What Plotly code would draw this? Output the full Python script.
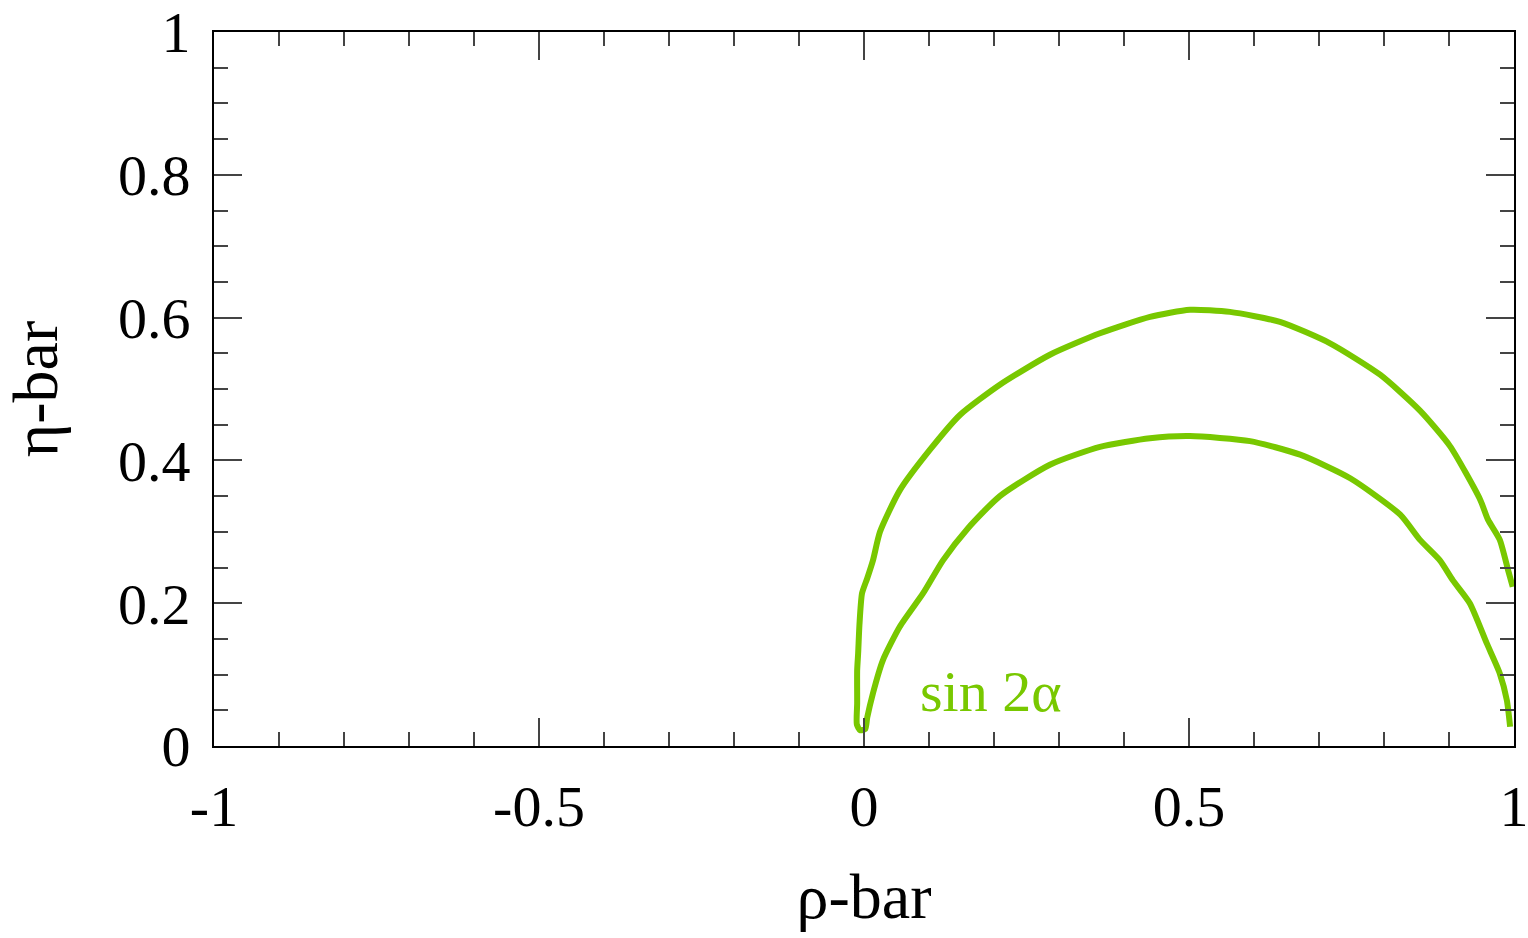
import plotly.graph_objects as go

# sin 2alpha constraint contour in the (rho-bar, eta-bar) plane
rho_pts = [0.998, 0.991, 0.978, 0.960, 0.948, 0.9015, 0.855, 0.794, 0.717, 0.640,
           0.563, 0.5015, 0.440, 0.363, 0.286, 0.209, 0.148, 0.1015, 0.055, 0.0246,
           0.0138, 0.005, -0.003, -0.007, -0.009, -0.0105, -0.0105, -0.011,
           -0.006, 0.002,
           0.005, 0.0138, 0.029, 0.055, 0.091, 0.1215, 0.160, 0.209, 0.286, 0.363,
           0.440, 0.5015, 0.594, 0.671, 0.748, 0.825, 0.855, 0.886, 0.906, 0.932,
           0.958, 0.978, 0.989, 0.994]
eta_pts = [0.223, 0.246, 0.289, 0.317, 0.345, 0.420, 0.470, 0.520, 0.564, 0.594,
           0.608, 0.611, 0.601, 0.578, 0.548, 0.506, 0.464, 0.415, 0.358, 0.300,
           0.260, 0.235, 0.214, 0.170, 0.130, 0.106, 0.060, 0.030,
           0.022, 0.024,
           0.040, 0.074, 0.120, 0.167, 0.214, 0.260, 0.305, 0.350, 0.394, 0.419,
           0.431, 0.434, 0.427, 0.408, 0.375, 0.324, 0.289, 0.260, 0.232, 0.200,
           0.144, 0.102, 0.064, 0.027]

x_ticks = [-1, -0.5, 0, 0.5, 1]
x_labels = ["-1", "-0.5", "0", "0.5", "1"]
y_ticks = [0, 0.2, 0.4, 0.6, 0.8, 1]
y_labels = ["0", "0.2", "0.4", "0.6", "0.8", "1"]

GREEN = "rgb(120,200,0)"
FONT = "Liberation Serif, Times New Roman, serif"

fig = go.Figure()
fig.add_trace(go.Scatter(x=rho_pts, y=eta_pts, mode="lines",
                         line=dict(color=GREEN, width=6, shape="spline", smoothing=0.6),
                         showlegend=False, hoverinfo="skip"))

fig.add_annotation(x=0.083, y=0.076, xref="x", yref="y", text="sin 2α",
                   showarrow=False, xanchor="left", yanchor="middle",
                   font=dict(family=FONT, size=58, color=GREEN))

axis_common = dict(showgrid=False, zeroline=False, showline=True, automargin=False,
                   linecolor="black", linewidth=2, mirror="allticks",
                   ticks="inside", tickcolor="#444", tickwidth=1.5, ticklen=28,
                   ticklabeloverflow="allow",
                   tickfont=dict(family=FONT, size=58, color="black"))

fig.update_xaxes(range=[-1, 1], tickmode="array", tickvals=x_ticks, ticktext=x_labels,
                 minor=dict(dtick=0.1, ticks="inside", ticklen=14, tickcolor="#444",
                            tickwidth=1.5, showgrid=False),
                 title=dict(text="ρ-bar", font=dict(family=FONT, size=64, color="black"),
                            standoff=36),
                 ticklabelstandoff=8,
                 **axis_common)
fig.update_yaxes(range=[0, 1], tickmode="array", tickvals=y_ticks, ticktext=y_labels,
                 minor=dict(dtick=0.05, ticks="inside", ticklen=14, tickcolor="#444",
                            tickwidth=1.5, showgrid=False),
                 title=dict(text="η-bar", font=dict(family=FONT, size=64, color="black"),
                            standoff=47),
                 ticklabelstandoff=10,
                 **axis_common)

fig.update_layout(width=1528, height=938,
                  margin=dict(l=214, r=14, t=32, b=192),
                  paper_bgcolor="white", plot_bgcolor="white")

fig.write_html("out.html")
